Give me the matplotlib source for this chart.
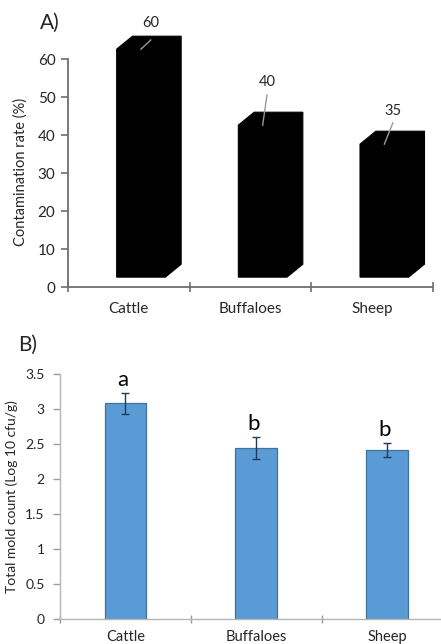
import matplotlib
matplotlib.use("Agg")
import matplotlib.pyplot as plt
from matplotlib.patches import Polygon

plt.rcParams['font.family'] = ['Lato', 'DejaVu Sans']

categories = ['Cattle', 'Buffaloes', 'Sheep']

# panel A: contamination rate (%)
contamination = [60, 40, 35]
value_labels = ['60', '40', '35']

# panel B: total mold count (log10 cfu/g)
mold_mean = [3.08, 2.44, 2.42]
mold_err = [0.15, 0.16, 0.10]
letters = ['a', 'b', 'b']

fig = plt.figure(figsize=(4.41, 6.44), dpi=100)
text_color = '#262626'

# ---------- A) 3D-look black bars ----------
ax1 = fig.add_axes([0.1542, 0.5543, 0.8277, 0.4249])
ax1.set_xlim(-0.5, 2.5)
ax1.set_ylim(0, 72)

floor = 2.6          # excel 3d floor lift
dx, dy = 0.13, 3.4   # depth offset of the bar
label_off = [(0.18, 9.5), (0.14, 13.9), (0.17, 11.3)]
line_off = [(0.08, 2.4), (0.035, 7.9), (0.07, 5.6)]

for i, v in enumerate(contamination):
    x0, x1 = i - 0.1, i + 0.3
    top = v + floor
    pts = [(x0, floor), (x1, floor), (x1 + dx, floor + dy),
           (x1 + dx, top + dy), (x0 + dx, top + dy), (x0, top)]
    ax1.add_patch(Polygon(pts, closed=True, facecolor='black',
                          edgecolor='black', lw=0.8, clip_on=False))
    lx, ly = label_off[i]
    ex, ey = line_off[i]
    ax1.plot([i + 0.1, i + 0.1 + ex], [top, top + ey], color='#9a9a9a',
             lw=1.0, clip_on=False, zorder=5)
    ax1.text(i + lx, v + ly, value_labels[i], ha='center', va='center',
             fontsize=10.5, color=text_color)

ax1.spines['top'].set_visible(False)
ax1.spines['right'].set_visible(False)
ax1.spines['left'].set_bounds(0, 60)
for s in ['left', 'bottom']:
    ax1.spines[s].set_color('#6e6e6e')
    ax1.spines[s].set_linewidth(1.3)
ax1.set_yticks(range(0, 61, 10))
ax1.set_xticks([-0.5, 0.5, 1.5, 2.5])
ax1.set_xticklabels([])
ax1.set_xticks([0, 1, 2], minor=True)
ax1.set_xticklabels(categories, minor=True)
ax1.tick_params(axis='x', which='major', direction='inout', length=7,
                color='#6e6e6e', width=1.2)
ax1.tick_params(axis='x', which='minor', length=0, pad=11,
                labelsize=11, labelcolor=text_color)
ax1.tick_params(axis='y', direction='out', length=5, color='#6e6e6e',
                width=1.2, labelsize=11, labelcolor=text_color, pad=4)
ax1.set_ylabel('Contamination rate (%)', fontsize=10.5, color=text_color)
ax1.yaxis.set_label_coords(-0.11, 0.42)
fig.text(0.09, 0.965, 'A)', fontsize=15, color=text_color,
         ha='left', va='center')

# ---------- B) blue bars with error bars ----------
ax2 = fig.add_axes([0.136, 0.0388, 0.891, 0.3804])
ax2.set_xlim(-0.5, 2.5)
ax2.set_ylim(0, 3.5)
xs = list(range(len(categories)))
ax2.bar(xs, mold_mean, width=0.32, color='#5b9bd5', edgecolor='#41719c',
        linewidth=0.9, zorder=2)
ax2.errorbar(xs, mold_mean, yerr=mold_err, fmt='none', ecolor='#1f3a5a',
             elinewidth=1.0, capsize=3, capthick=1.0, zorder=3)
for i, (m, e) in enumerate(zip(mold_mean, mold_err)):
    ax2.text(i - 0.02, m + e + 0.1, letters[i], ha='center', va='baseline',
             fontsize=16, color='black')

ax2.spines['top'].set_visible(False)
ax2.spines['right'].set_visible(False)
for s in ['left', 'bottom']:
    ax2.spines[s].set_color('#b5b5b5')
    ax2.spines[s].set_linewidth(1.0)
ax2.set_yticks([0, 0.5, 1, 1.5, 2, 2.5, 3, 3.5])
ax2.set_yticklabels(['0', '0.5', '1', '1.5', '2', '2.5', '3', '3.5'])
ax2.set_xticks([-0.5, 0.5, 1.5, 2.5])
ax2.set_xticklabels([])
ax2.set_xticks(xs, minor=True)
ax2.set_xticklabels(categories, minor=True)
ax2.tick_params(axis='x', which='major', direction='inout', length=6,
                color='#9a9a9a', width=1.0)
ax2.tick_params(axis='x', which='minor', length=0, pad=8,
                labelsize=10.5, labelcolor=text_color)
ax2.tick_params(axis='y', direction='out', length=5, color='#9a9a9a',
                width=1.0, labelsize=10, labelcolor=text_color, pad=6)
ax2.set_ylabel('Total mold count (Log 10 cfu/g)', fontsize=10,
               color=text_color)
ax2.yaxis.set_label_coords(-0.107, 0.498)
fig.text(0.04, 0.465, 'B)', fontsize=15, color=text_color,
         ha='left', va='center')

fig.savefig('out.png', dpi=100)
